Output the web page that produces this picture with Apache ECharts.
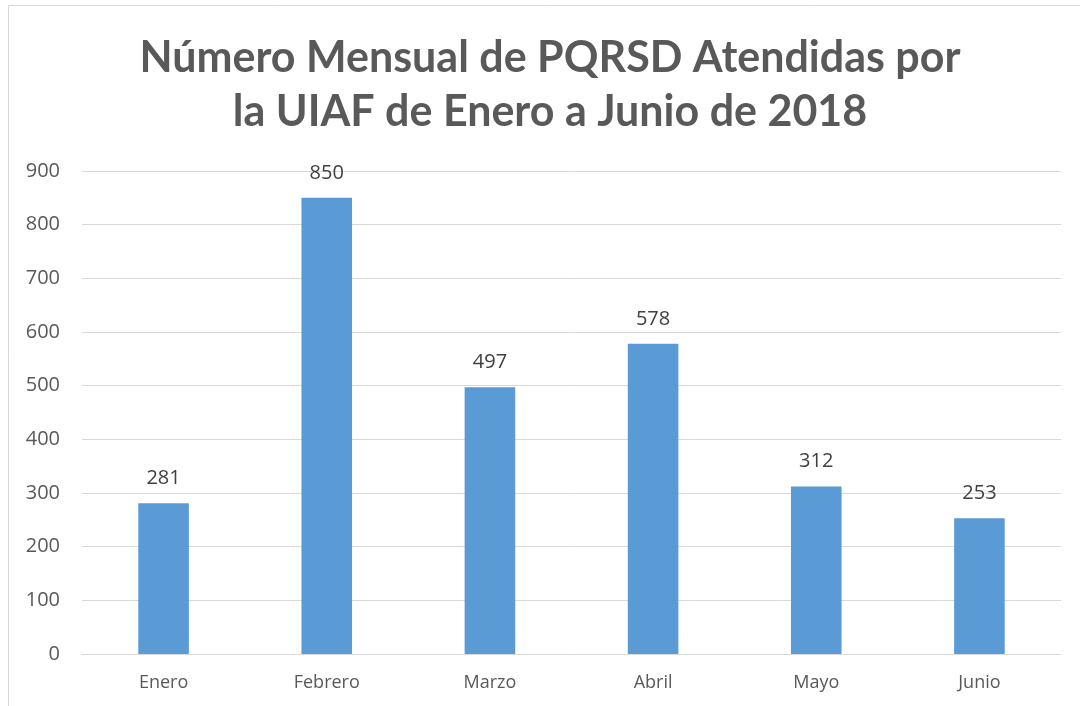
<!DOCTYPE html>
<html><head><meta charset="utf-8">
<script src="https://cdn.jsdelivr.net/npm/echarts@6/dist/echarts.min.js"></script>
<style>html,body{margin:0;padding:0;background:#fff}#c{width:1080px;height:706px}</style>
</head><body><div id="c"></div>
<script>
const categories = ['Enero','Febrero','Marzo','Abril','Mayo','Junio'];
const values = [281, 850, 497, 578, 312, 253];
const titleText = 'Número Mensual de PQRSD Atendidas por\nla UIAF de Enero a Junio de 2018';

const chart = echarts.init(document.getElementById('c'));
chart.setOption({
  animation: false,
  backgroundColor: '#fff',
  graphic: [{
    type: 'rect', shape: {x: 8.5, y: 5.5, width: 1200, height: 900},
    style: {fill: 'none', stroke: '#d9d9d9', lineWidth: 1}, silent: true
  }],
  title: {
    text: titleText, left: 545, top: 26, textAlign: 'center',
    textStyle: {fontFamily: 'Lato', fontWeight: 'bold', fontSize: 43, color: '#595959', lineHeight: 54}
  },
  grid: {left: 82, right: 19, top: 171, bottom: 52},
  xAxis: {
    type: 'category', data: categories,
    axisLine: {lineStyle: {color: '#d9d9d9'}}, axisTick: {show: false},
    axisLabel: {color: '#595959', fontSize: 18, fontFamily: 'Open Sans', margin: 20}
  },
  yAxis: {
    type: 'value', min: 0, max: 900, interval: 100,
    axisLine: {show: false}, axisTick: {show: false},
    splitLine: {lineStyle: {color: '#d9d9d9'}},
    axisLabel: {color: '#595959', fontSize: 20, fontFamily: 'Open Sans', margin: 22}
  },
  series: [{
    type: 'bar', data: values, barWidth: '31%',
    itemStyle: {color: '#5B9BD5'},
    label: {show: true, position: 'top', distance: 15, color: '#404040', fontSize: 20, fontFamily: 'Open Sans'}
  }]
});
</script></body></html>
